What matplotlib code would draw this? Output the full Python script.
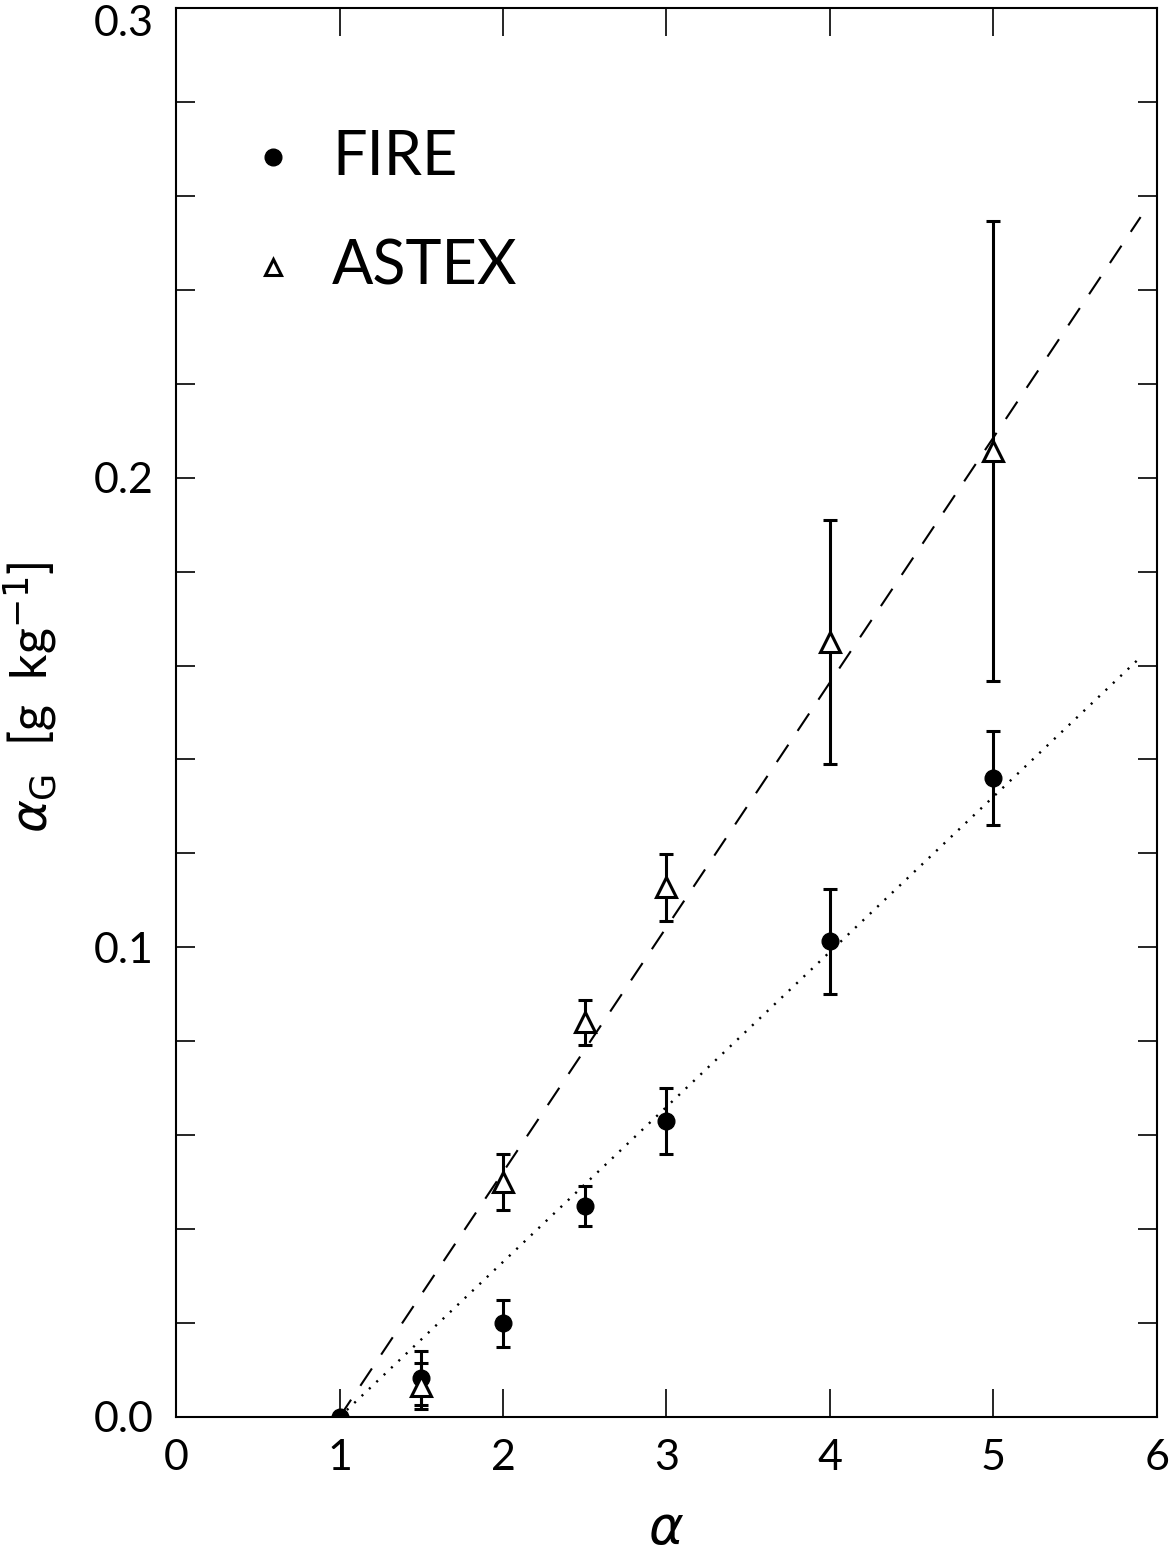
import numpy as np
import matplotlib
matplotlib.use("Agg")
import matplotlib.pyplot as plt
from matplotlib.ticker import MultipleLocator, FuncFormatter

# values
alpha = [1.0, 1.5, 2.0, 2.5, 3.0, 4.0, 5.0]

fire_ag = [0.0, 0.0083, 0.020, 0.0449, 0.063, 0.1013, 0.136]
fire_err = [0.0, 0.0058, 0.005, 0.0042, 0.0071, 0.0112, 0.010]

astex_ag = [0.0, 0.0066, 0.050, 0.084, 0.1128, 0.165, 0.2057]
astex_err = [0.0, 0.0049, 0.006, 0.0047, 0.0071, 0.026, 0.049]

# fitted lines (end points)
fit_x = [1.0, 5.9]
astex_fit = [0.0, 0.2555]
fire_fit = [0.0, 0.1618]

plt.rcParams['font.family'] = ['Lato', 'DejaVu Sans']
plt.rcParams['mathtext.fontset'] = 'dejavusans'

fig = plt.figure(figsize=(11.76, 15.51), dpi=100)
ax = fig.add_axes([0.1497, 0.0864, 0.9838 - 0.1497, 0.9948 - 0.0864])

ax.plot(fit_x, astex_fit, color='black', lw=1.5, dashes=(10, 8))
ax.plot(fit_x, fire_fit, color='black', lw=1.7, dashes=(0.9, 3.4))

ax.errorbar(alpha[1:], fire_ag[1:], yerr=fire_err[1:], fmt='o', color='black',
            ms=12, elinewidth=2.2, capsize=5, capthick=2.2)
ax.plot(alpha[0], fire_ag[0], 'o', color='black', ms=12)
ax.errorbar(alpha[1:], astex_ag[1:], yerr=astex_err[1:], fmt='^', mfc='white',
            mec='black', mew=2.2, color='black', ms=14, elinewidth=2.2,
            capsize=5, capthick=2.2)

# legend, drawn by hand like the original
ax.plot([0.099], [0.894], 'o', color='black', ms=12, transform=ax.transAxes)
ax.plot([0.099], [0.816], '^', mfc='white', mec='black', mew=2.2, ms=11,
        transform=ax.transAxes)
ax.text(0.159, 0.894, 'FIRE', transform=ax.transAxes, fontsize=44,
        va='center', ha='left')
ax.text(0.159, 0.816, 'ASTEX', transform=ax.transAxes, fontsize=44,
        va='center', ha='left')

ax.set_xlim(0, 6)
ax.set_ylim(0, 0.3)
ymax = ax.get_ylim()[1]
ax.xaxis.set_major_locator(MultipleLocator(1))
ax.yaxis.set_major_locator(MultipleLocator(0.1))
ax.yaxis.set_minor_locator(MultipleLocator(0.02))
# top label is drawn separately so it sits just under the frame edge
ax.yaxis.set_major_formatter(
    FuncFormatter(lambda v, p: '' if abs(v - ymax) < 1e-9 else '%.1f' % v))

ax.tick_params(axis='x', which='major', direction='in', top=True, bottom=True,
               length=20, width=1.2, labelsize=31, pad=16)
ax.tick_params(axis='y', which='both', direction='in', left=True, right=True,
               length=14, width=1.2, labelsize=31, pad=16)
for s in ax.spines.values():
    s.set_linewidth(1.5)

ax.annotate('%.1f' % ymax, xy=(0, ymax), xycoords=('axes fraction', 'data'),
            xytext=(-16, 2), textcoords='offset points', ha='right', va='top',
            fontsize=31)

ax.set_xlabel(r'$\alpha$', fontsize=38)
ax.xaxis.set_label_coords(0.5, -0.063)
ax.set_ylabel(r'$\alpha_{\rm G}$  [g  kg$^{-1}$]', fontsize=36)
ax.yaxis.set_label_coords(-0.118, 0.511)

fig.savefig('out.png', dpi=100)
